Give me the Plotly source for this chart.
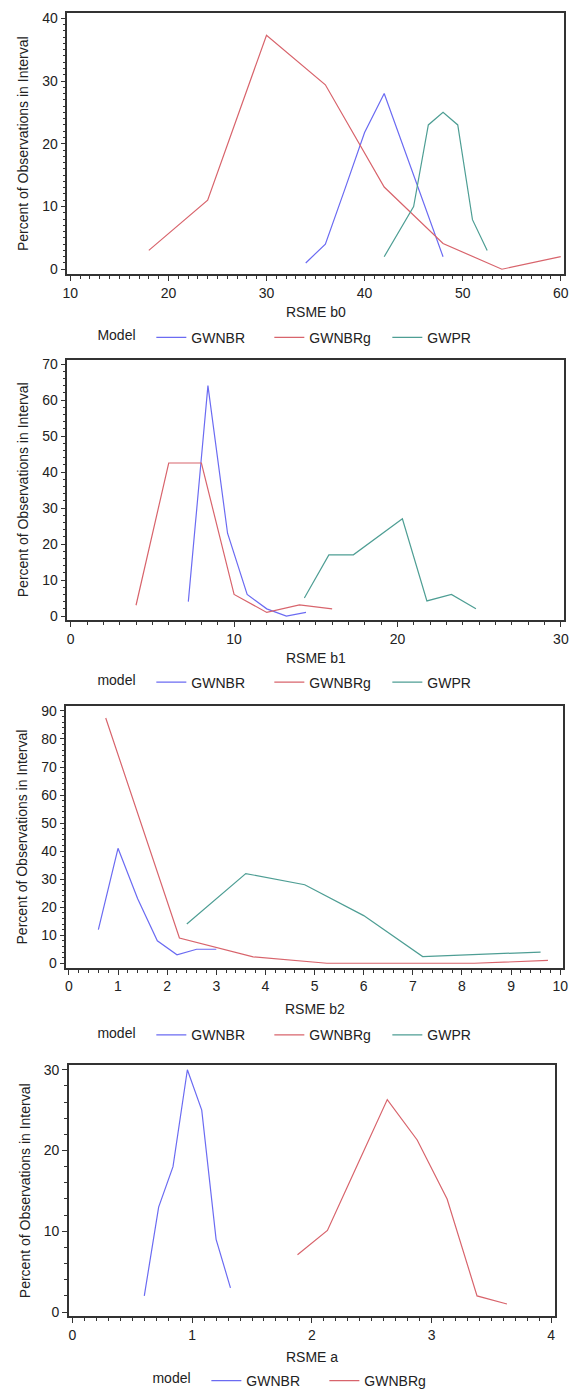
import plotly.graph_objects as go

# ---------------- data ----------------
# Panel 1: RSME b0
b0_gwnbr_x = [34, 36, 38, 40, 42, 44, 46, 48]
b0_gwnbr_y = [1, 4, 12.8, 21.8, 28, 19.3, 10.7, 2]
b0_gwnbrg_x = [18, 24, 30, 36, 42, 48, 54, 60]
b0_gwnbrg_y = [3, 11, 37.3, 29.4, 13.1, 4.1, 0, 2]
b0_gwpr_x = [42, 43.5, 45, 46.5, 48, 49.5, 51, 52.5]
b0_gwpr_y = [2, 6, 10, 23, 25, 23, 7.9, 3]

# Panel 2: RSME b1
b1_gwnbr_x = [7.2, 8.4, 9.6, 10.8, 12.0, 13.2, 14.4]
b1_gwnbr_y = [4, 64, 23, 6, 2, 0, 1]
b1_gwnbrg_x = [4, 6, 8, 10, 12, 14, 16]
b1_gwnbrg_y = [3, 42.5, 42.5, 6, 1, 3.1, 2]
b1_gwpr_x = [14.3, 15.8, 17.3, 18.8, 20.3, 21.8, 23.3, 24.8]
b1_gwpr_y = [5, 17, 17, 22, 27, 4.2, 6, 2]

# Panel 3: RSME b2
b2_gwnbr_x = [0.6, 1.0, 1.4, 1.8, 2.2, 2.6, 3.0]
b2_gwnbr_y = [12, 41, 23, 8, 3, 5, 5]
b2_gwnbrg_x = [0.75, 2.25, 3.75, 5.25, 6.75, 8.25, 9.75]
b2_gwnbrg_y = [87.5, 9, 2.3, 0, 0, 0, 1]
b2_gwpr_x = [2.4, 3.6, 4.8, 6.0, 7.2, 8.4, 9.6]
b2_gwpr_y = [14, 32, 28, 17, 2.4, 3.2, 4]

# Panel 4: RSME a
a_gwnbr_x = [0.6, 0.72, 0.84, 0.96, 1.08, 1.2, 1.32]
a_gwnbr_y = [2, 13, 18, 30, 25, 9, 3]
a_gwnbrg_x = [1.88, 2.13, 2.38, 2.63, 2.88, 3.13, 3.38, 3.63]
a_gwnbrg_y = [7.1, 10.1, 18.2, 26.3, 21.3, 14, 2, 1]

x_titles = ["RSME b0", "RSME b1", "RSME b2", "RSME a"]
legend_titles = ["Model", "model", "model", "model"]
y_title = "Percent of Observations in Interval"

# ---------------- style ----------------
W, H = 579, 1397
FONT = "Arial, Liberation Sans, sans-serif"
FS = 14
C_BLUE = "#6B6BF2"
C_RED = "#D8646C"
C_GREEN = "#4E9E94"

panels = [
    dict(series=[("GWNBR", b0_gwnbr_x, b0_gwnbr_y, C_BLUE),
                 ("GWNBRg", b0_gwnbrg_x, b0_gwnbrg_y, C_RED),
                 ("GWPR", b0_gwpr_x, b0_gwpr_y, C_GREEN)],
         px=(63.5, 568.5), py=(9.3, 272), xr=[9.7, 60.3], yr=[-0.8, 40.8],
         xd=10, yd=10, xm=1, ym=1, leg_y=336, leg_x=92, title_y=310),
    dict(series=[("GWNBR", b1_gwnbr_x, b1_gwnbr_y, C_BLUE),
                 ("GWNBRg", b1_gwnbrg_x, b1_gwnbrg_y, C_RED),
                 ("GWPR", b1_gwpr_x, b1_gwpr_y, C_GREEN)],
         px=(63.5, 569), py=(358, 620), xr=[-0.2, 30.2], yr=[-1.1, 71.2],
         xd=10, yd=10, xm=1, ym=2, leg_y=683, leg_x=92, title_y=658),
    dict(series=[("GWNBR", b2_gwnbr_x, b2_gwnbr_y, C_BLUE),
                 ("GWNBRg", b2_gwnbrg_x, b2_gwnbrg_y, C_RED),
                 ("GWPR", b2_gwpr_x, b2_gwpr_y, C_GREEN)],
         px=(62.5, 567.5), py=(707, 970), xr=[-0.05, 10.05], yr=[-1.6, 91.6],
         xd=1, yd=10, xm=0.2, ym=2, leg_y=1038, leg_x=92, title_y=1012),
    dict(series=[("GWNBR", a_gwnbr_x, a_gwnbr_y, C_BLUE),
                 ("GWNBRg", a_gwnbrg_x, a_gwnbrg_y, C_RED)],
         px=(65, 559.5), py=(1068, 1321), xr=[-0.03, 4.03], yr=[-0.55, 30.57],
         xd=1, yd=10, xm=0.1, ym=2, leg_y=1386, leg_x=148, title_y=1362),
]

fig = go.Figure()
layout = dict(width=W, height=H, margin=dict(l=0, r=0, t=0, b=0),
              paper_bgcolor="white", plot_bgcolor="white",
              font=dict(family=FONT, size=FS, color="#222"))
annotations = []

for i, p in enumerate(panels):
    n = "" if i == 0 else str(i + 1)
    xa, ya = "x" + n, "y" + n
    leg = "legend" + n
    for name, xs, ys, col in p["series"]:
        fig.add_trace(go.Scatter(x=xs, y=ys, mode="lines", name=name,
                                 line=dict(color=col, width=1.2),
                                 xaxis=xa, yaxis=ya, legend=leg, showlegend=True))
    axis_common = dict(showline=True, linecolor="#333", linewidth=1.5, mirror=True,
                       ticks="outside", ticklen=5, tickcolor="#333", showgrid=False,
                       zeroline=False, tickfont=dict(size=FS, color="#222"))
    xdom = [p["px"][0] / W, p["px"][1] / W]
    layout["xaxis" + n] = dict(axis_common, domain=xdom,
                               anchor=ya, range=p["xr"], dtick=p["xd"], tick0=0,
                               minor=dict(dtick=p["xm"], tick0=0, ticks="outside",
                                          ticklen=3, tickcolor="#333"))
    layout["yaxis" + n] = dict(axis_common,
                               domain=[1 - p["py"][1] / H, 1 - p["py"][0] / H],
                               anchor=xa, range=p["yr"], dtick=p["yd"], tick0=0,
                               minor=dict(dtick=p["ym"], tick0=0, ticks="outside",
                                          ticklen=3, tickcolor="#333"),
                               title=dict(text=y_title, standoff=10,
                                          font=dict(size=FS, color="#222")))
    annotations.append(dict(text=x_titles[i], xref="paper", yref="paper",
                            x=(xdom[0] + xdom[1]) / 2, y=1 - p["title_y"] / H,
                            xanchor="center", yanchor="middle", showarrow=False,
                            font=dict(size=FS, color="#222")))
    layout[leg] = dict(orientation="h", x=p["leg_x"] / W, xanchor="left",
                       y=1 - p["leg_y"] / H, yanchor="middle",
                       title=dict(text=legend_titles[i] + "\u00a0\u00a0", side="left",
                                  font=dict(size=FS, color="#222")),
                       font=dict(size=FS, color="#222"),
                       entrywidth=73, entrywidthmode="pixels",
                       bgcolor="rgba(0,0,0,0)", borderwidth=0)

layout["annotations"] = annotations
fig.update_layout(**layout)
fig.write_html("out.html", config={"displayModeBar": False},
               post_script="document.body.style.margin='0';"
                           "document.body.style.overflow='hidden';")
